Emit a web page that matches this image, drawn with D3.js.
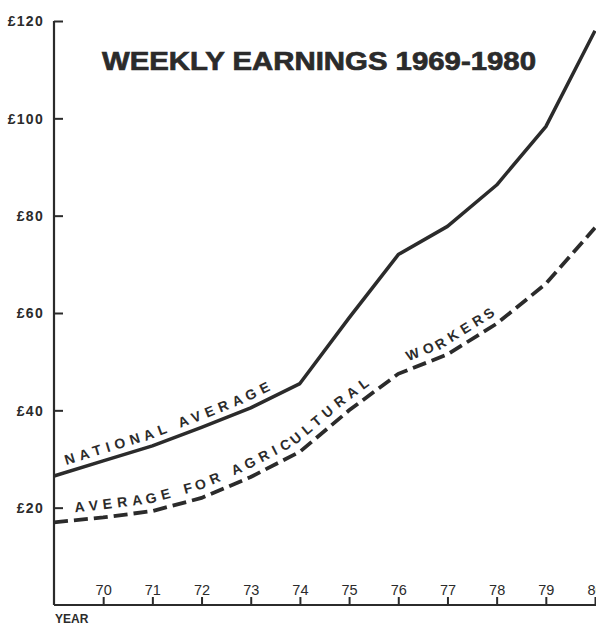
<!DOCTYPE html>
<html><head><meta charset="utf-8">
<script src="https://cdn.jsdelivr.net/npm/d3@7"></script>
<style>body{margin:0;background:#fff}svg{display:block}</style>
</head><body>
<script>
const years = [1969,1970,1971,1972,1973,1974,1975,1976,1977,1978,1979,1980];
const national = [26.5,29.6,32.7,36.5,40.5,45.5,59,72,77.8,86.3,98.3,118];
const agricultural = [17,18,19.3,22,26.3,31.5,40,47.5,51.5,57.8,66,77.5];
const yTicks = [20,40,60,80,100,120];
const xTicks = [1970,1971,1972,1973,1974,1975,1976,1977,1978,1979,1980];
const xTickLabels = ["70","71","72","73","74","75","76","77","78","79","80"];
const title = "WEEKLY EARNINGS 1969-1980";
const ink = "#2b2b2b";

const W = 596, H = 625;
const svg = d3.select("body").append("svg").attr("width", W).attr("height", H)
  .style("font-family", "'Liberation Sans', Arial, sans-serif");

const x = d3.scaleLinear().domain([1969, 1980]).range([54, 595]);
const y = d3.scaleLinear().domain([0, 120]).range([605, 21]);

// axes
svg.append("line").attr("x1", x(1969)).attr("x2", W + 5).attr("y1", y(0)).attr("y2", y(0))
  .attr("stroke", ink).attr("stroke-width", 2.2);
svg.append("line").attr("x1", x(1969)).attr("x2", x(1969)).attr("y1", y(120)).attr("y2", y(0))
  .attr("stroke", ink).attr("stroke-width", 2.2);

const yAxis = d3.axisLeft(y).tickValues(yTicks).tickSize(0).tickFormat(d => "£" + d);
const gy = svg.append("g").attr("transform", `translate(${x(1969)},0)`).call(yAxis);
gy.select(".domain").remove();
gy.selectAll(".tick text").attr("x", -10).attr("fill", ink)
  .style("font-size", "14px").style("font-weight", "bold").style("letter-spacing", "1.3px")
  .attr("dy", "0.35em");
gy.selectAll(".tick").append("line").attr("x1", 0).attr("x2", 9).attr("stroke", ink).attr("stroke-width", 2);

const xAxis = d3.axisTop(x).tickValues(xTicks).tickSize(0).tickFormat((d, i) => xTickLabels[i]);
const gx = svg.append("g").attr("transform", `translate(0,${y(0)})`).call(xAxis);
gx.select(".domain").remove();
gx.selectAll(".tick text").attr("y", -10).attr("fill", ink)
  .style("font-size", "14.5px").style("font-weight", "normal").attr("dy", 0);
gx.selectAll(".tick").append("line").attr("y1", 0).attr("y2", -8).attr("stroke", ink).attr("stroke-width", 2);

svg.append("text").attr("x", 55).attr("y", 623).text("YEAR")
  .attr("fill", ink).style("font-size", "12px").style("font-weight", "bold");

// title
svg.append("text").attr("x", 102).attr("y", 70).text(title)
  .attr("fill", ink).attr("stroke", ink).attr("stroke-width", 0.7)
  .style("font-size", "26px").style("font-weight", "bold")
  .attr("textLength", 434).attr("lengthAdjust", "spacingAndGlyphs");

// lines
const line = d3.line().x((d, i) => x(years[i])).y(d => y(d));
svg.append("path").attr("id", "natPath").attr("d", line(national)).attr("fill", "none")
  .attr("stroke", ink).attr("stroke-width", 3.5).attr("stroke-linejoin", "round");
svg.append("path").attr("id", "agrPath").attr("d", line(agricultural)).attr("fill", "none")
  .attr("stroke", ink).attr("stroke-width", 3.8).attr("stroke-dasharray", "14,6");

// labels along lines
function pathLabel(id, txt, offset, dy, spacing) {
  svg.append("text").attr("dy", dy).attr("fill", ink)
    .style("font-size", "14px").style("font-weight", "bold").style("letter-spacing", spacing + "px")
    .append("textPath").attr("href", "#" + id).attr("startOffset", offset).text(txt);
}
pathLabel("natPath", "NATIONAL AVERAGE", 15, -7, 5.1);
pathLabel("agrPath", "AVERAGE FOR AGRICULTURAL", 22, -8, 5.1);
pathLabel("agrPath", "WORKERS", 398, -8, 4.8);
</script>
</body></html>
